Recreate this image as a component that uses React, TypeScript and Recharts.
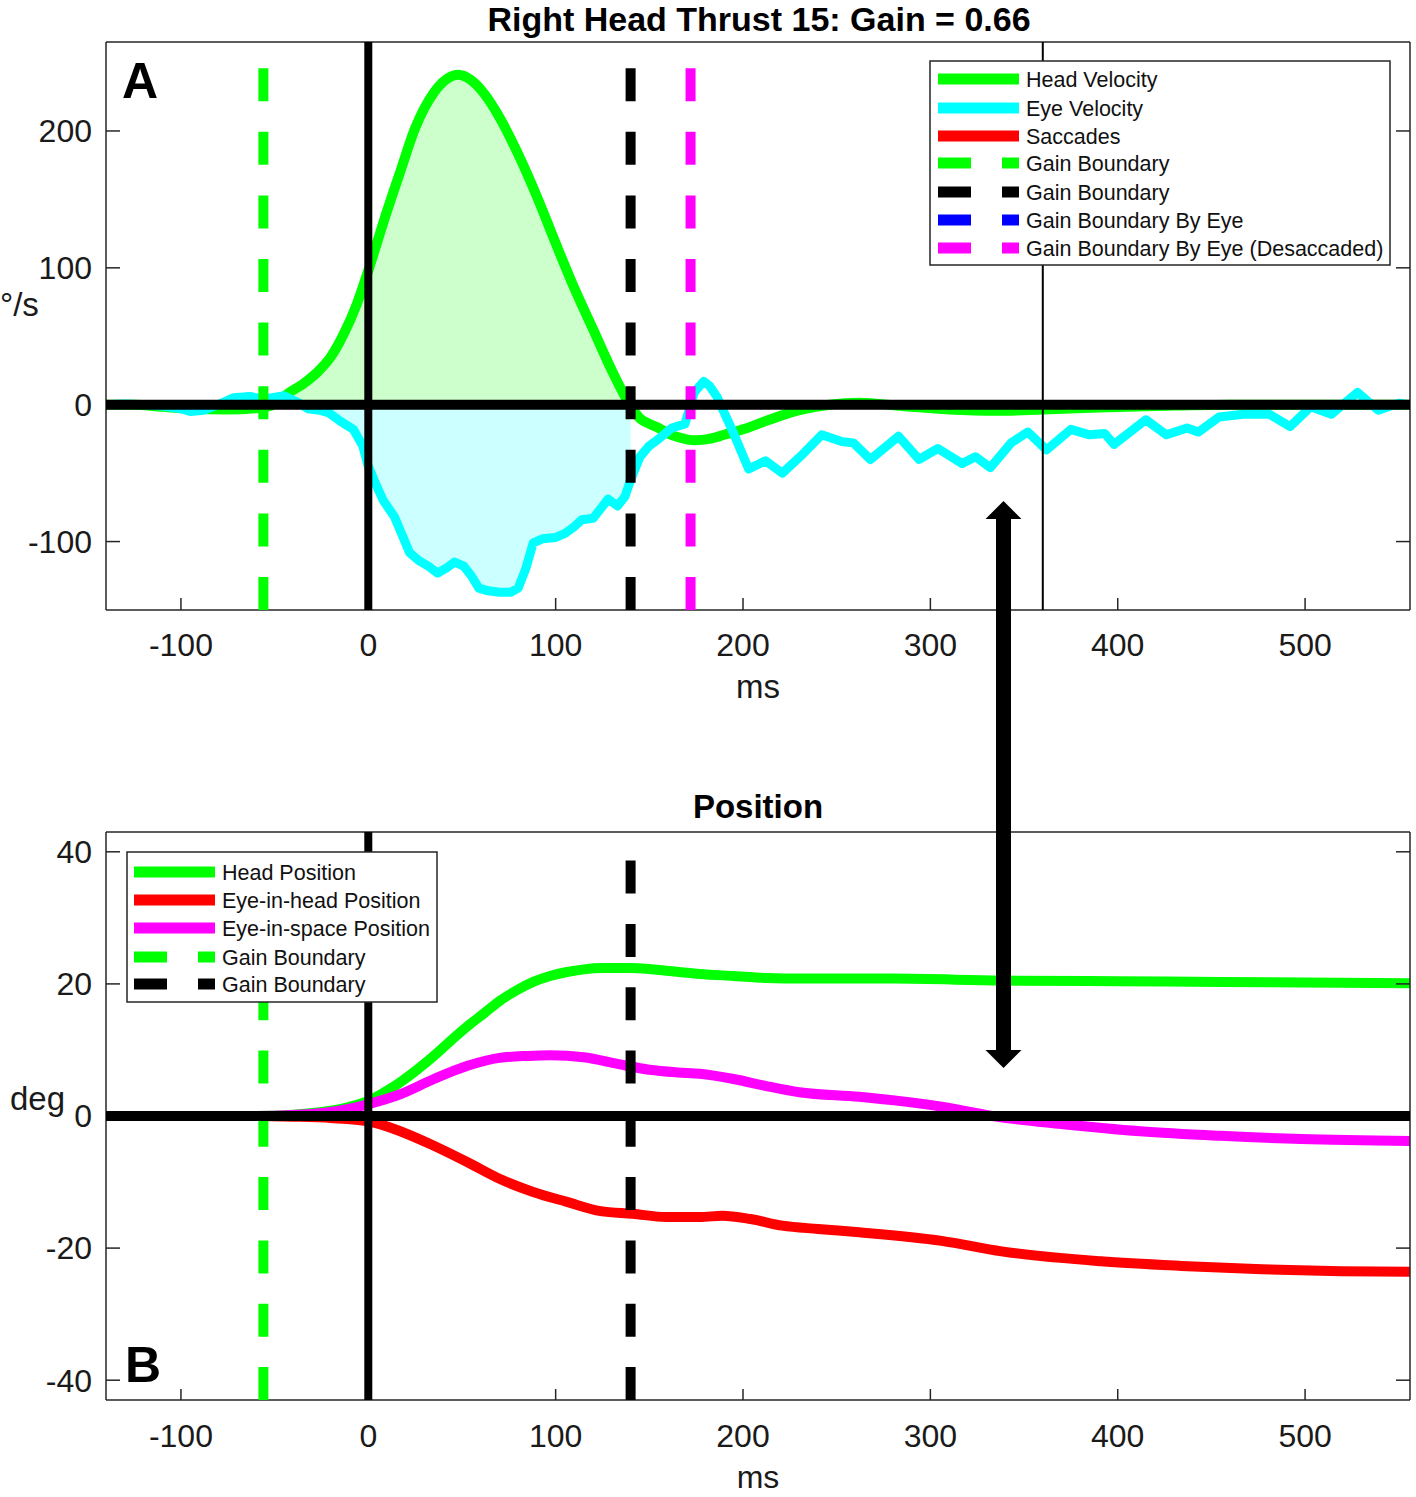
import { ComposedChart, Line, Area, XAxis, YAxis, ReferenceLine, Label } from 'recharts';

const FONT = '"Liberation Sans", Arial, Helvetica, sans-serif';

// time axis (ms) shared by both panels
const timeDomain = [-140, 556];
const timeTicks = [-100, 0, 100, 200, 300, 400, 500];

const velocityDomain = [-150, 265];
const velocityTicks = [-100, 0, 100, 200];
const positionDomain = [-43, 43];
const positionTicks = [-40, -20, 0, 20, 40];

// boundaries (ms)
const gainStart = -56;
const gainEnd = 140;
const desaccadedBoundary = 172;
const thinMarker = 360;

// [ms, deg/s]
const headVelocity = [
  [-140, 0], [-125, 0], [-110, -1.5], [-95, -3], [-75, -3.5], [-56, -2], [-48, 2], [-43, 8],
  [-35, 15], [-27, 24], [-20, 35], [-13, 52], [-6, 74], [0, 98], [8, 133], [17, 170],
  [25, 202], [35, 228], [42, 238], [48, 241], [55, 237], [62, 227], [70, 210], [80, 183],
  [90, 152], [100, 118], [110, 85], [120, 55], [130, 25], [140, -1], [145, -10], [150, -14],
  [155, -17], [160, -21], [166, -24], [174, -26], [182, -25], [190, -22], [200, -18],
  [214, -11], [230, -4], [246, 0], [262, 1.5], [285, -1], [310, -3.5], [335, -4.5],
  [360, -3.5], [390, -2], [420, -1], [460, 0], [556, 0],
];

const eyeVelocity = [
  [-140, 0], [-130, 0.5], [-120, 0], [-110, -1], [-100, -3], [-95, -5], [-88, -4], [-82, -1],
  [-72, 5], [-63, 6], [-56, 4], [-45, 6.5], [-38, 2], [-32, -3], [-26, -4], [-21, -6],
  [-15, -12], [-8, -18], [-3, -30], [0, -45], [4, -58], [8, -70], [14, -82], [18, -95],
  [22, -108], [27, -114], [32, -118], [37, -123], [42, -119], [46, -115], [51, -118],
  [55, -125], [59, -134], [64, -136], [70, -137], [76, -137], [80, -134], [84, -120],
  [88, -101], [93, -98], [100, -97], [105, -94], [110, -89], [114, -84], [120, -83],
  [124, -76], [128, -69], [133, -74], [137, -67], [140, -55], [145, -38], [150, -30],
  [155, -25], [162, -17], [169, -14], [174, 9], [179, 17], [182, 14], [186, 6], [195, -21],
  [203, -47], [212, -41], [221, -50], [232, -36], [242, -22], [253, -27], [259, -28],
  [268, -40], [283, -23], [294, -40], [304, -32], [317, -43], [324, -38], [332, -46],
  [343, -28], [352, -20], [362, -33], [375, -18], [385, -22], [393, -21], [398, -29],
  [415, -11], [426, -22], [437, -17], [443, -20], [454, -9], [467, -7], [481, -7],
  [492, -16], [503, -1.5], [514, -7], [528, 9], [539, -4], [550, 1], [556, 0],
];

// [ms, deg]
const headPosition = [
  [-140, 0], [-60, 0], [-40, 0.2], [-20, 0.8], [-10, 1.4], [0, 2.3], [8, 3.5], [17, 5.1],
  [26, 7], [35, 9.1], [44, 11.4], [53, 13.6], [62, 15.6], [70, 17.4], [79, 19], [88, 20.3],
  [97, 21.2], [106, 21.8], [115, 22.2], [124, 22.4], [141, 22.4], [159, 22], [177, 21.5],
  [195, 21.2], [213, 20.9], [230, 20.8], [280, 20.8], [338, 20.5], [400, 20.4], [455, 20.3],
  [556, 20.1],
];

const eyeInHeadPosition = [
  [-140, 0], [-60, 0], [-40, -0.1], [-20, -0.3], [0, -0.8], [17, -2.3], [35, -4.5], [53, -7],
  [70, -9.5], [88, -11.5], [106, -13], [124, -14.4], [141, -14.8], [159, -15.3], [177, -15.3],
  [189, -15.1], [204, -15.6], [221, -16.6], [240, -17.1], [262, -17.6], [306, -18.9],
  [338, -20.5], [391, -22], [434, -22.7], [477, -23.2], [519, -23.5], [556, -23.6],
];

const eyeInSpacePosition = [
  [-140, 0], [-60, 0], [-40, 0.15], [-20, 0.6], [-10, 1.1], [0, 1.8], [17, 3.3], [35, 5.6],
  [53, 7.6], [70, 8.8], [85, 9.1], [97, 9.2], [115, 8.9], [133, 7.9], [150, 7], [165, 6.6],
  [177, 6.4], [195, 5.6], [213, 4.5], [230, 3.6], [262, 2.9], [306, 1.4], [333, 0],
  [370, -1.2], [412, -2.3], [455, -3], [498, -3.5], [556, -3.8],
];

const velocityLegendNames = [
  'Head Velocity',
  'Eye Velocity',
  'Saccades',
  'Gain Boundary',
  'Gain Boundary',
  'Gain Boundary By Eye',
  'Gain Boundary By Eye (Desaccaded)',
];
const positionLegendNames = [
  'Head Position',
  'Eye-in-head Position',
  'Eye-in-space Position',
  'Gain Boundary',
  'Gain Boundary',
];

const GREEN = '#00ff00';
const CYAN = '#00ffff';
const RED = '#ff0000';
const MAGENTA = '#ff00ff';
const BLUE = '#0000ff';
const BLACK = '#000000';
// reference lines are drawn bottom-up, so the pattern starts with a full dash at the x axis
const DASH_A = '33 30.6';
const DASH_B = '33 30.3';

const toPoints = (pairs: number[][]) => pairs.map(([t, v]) => ({ t, v }));
const inGain = (p: { t: number }) => p.t >= gainStart && p.t <= gainEnd;

const headVelData = toPoints(headVelocity);
const eyeVelData = toPoints(eyeVelocity);
const headFill = headVelData.filter(inGain);
const eyeFill = eyeVelData.filter(inGain);

const axisLine = { stroke: '#262626', strokeWidth: 1.5 };
const tickLine = { stroke: '#262626', strokeWidth: 1.5 };
const tickStyle = { fill: '#1a1a1a', fontSize: 32, fontFamily: FONT };
const blank = () => '';

const velocityLegendStyle = [
  { color: GREEN, dashed: false },
  { color: CYAN, dashed: false },
  { color: RED, dashed: false },
  { color: GREEN, dashed: true },
  { color: BLACK, dashed: true },
  { color: BLUE, dashed: true },
  { color: MAGENTA, dashed: true },
];
const positionLegendStyle = [
  { color: GREEN, dashed: false },
  { color: RED, dashed: false },
  { color: MAGENTA, dashed: false },
  { color: GREEN, dashed: true },
  { color: BLACK, dashed: true },
];

interface LegendProps {
  names: string[];
  styles: { color: string; dashed: boolean }[];
  box: { x: number; y: number; w: number; h: number };
  lineX: number;
  textX: number;
  rows: number[];
}

const LegendBox = ({ names, styles, box, lineX, textX, rows }: LegendProps) => (
  <g>
    <rect x={box.x} y={box.y} width={box.w} height={box.h} fill="#fff" stroke="#262626" strokeWidth={1.5} />
    {names.map((name, i) => (
      <g key={i}>
        <line
          x1={lineX}
          x2={lineX + 81}
          y1={rows[i]}
          y2={rows[i]}
          stroke={styles[i].color}
          strokeWidth={11}
          strokeDasharray={styles[i].dashed ? '33 31' : undefined}
        />
        <text x={textX} y={rows[i] + 8} fontSize={21.5} fontFamily={FONT} fill="#111">
          {name}
        </text>
      </g>
    ))}
  </g>
);

const App = () => {
  return (
    <div style={{ position: 'absolute', left: 0, top: 0, width: 1416, height: 1497, background: '#fff' }}>
      {/* A: velocity */}
      <div style={{ position: 'absolute', left: 0, top: 0 }}>
        <ComposedChart width={1416} height={720} margin={{ top: 41, right: 5, bottom: 10, left: 0 }}>
          <XAxis
            type="number"
            dataKey="t"
            domain={timeDomain}
            ticks={timeTicks}
            interval={0}
            allowDataOverflow
            height={100}
            tickSize={-12}
            tickMargin={35}
            axisLine={axisLine}
            tickLine={tickLine}
            tick={tickStyle}
          >
            <Label value="ms" position="insideBottom" offset={12} fontSize={33} fontFamily={FONT} fill="#1a1a1a" />
          </XAxis>
          <XAxis
            xAxisId="top"
            orientation="top"
            type="number"
            domain={timeDomain}
            ticks={timeTicks}
            interval={0}
            allowDataOverflow
            height={1}
            tickSize={-12}
            tickFormatter={blank}
            axisLine={axisLine}
            tickLine={tickLine}
          />
          <YAxis
            type="number"
            domain={velocityDomain}
            ticks={velocityTicks}
            interval={0}
            allowDataOverflow
            width={106}
            tickSize={-14}
            tickMargin={28}
            axisLine={axisLine}
            tickLine={tickLine}
            tick={tickStyle}
          />
          <YAxis
            yAxisId="right"
            orientation="right"
            type="number"
            domain={velocityDomain}
            ticks={velocityTicks}
            interval={0}
            allowDataOverflow
            width={1}
            tickSize={-14}
            tickFormatter={blank}
            axisLine={axisLine}
            tickLine={tickLine}
          />
          <Area data={headFill} dataKey="v" type="monotone" baseValue={0} fill="#ccffcc" fillOpacity={1} stroke="none" isAnimationActive={false} />
          <Area data={eyeFill} dataKey="v" type="linear" baseValue={0} fill="#ccffff" fillOpacity={1} stroke="none" isAnimationActive={false} />
          <Line data={headVelData} dataKey="v" type="monotone" stroke={GREEN} strokeWidth={10} strokeLinejoin="round" dot={false} activeDot={false} isAnimationActive={false} />
          <Line data={eyeVelData} dataKey="v" type="linear" stroke={CYAN} strokeWidth={9} strokeLinejoin="round" dot={false} activeDot={false} isAnimationActive={false} />
          <ReferenceLine x={gainStart} stroke={GREEN} strokeWidth={10} strokeDasharray={DASH_A} zIndex={700} />
          <ReferenceLine x={gainEnd} stroke={BLACK} strokeWidth={10} strokeDasharray={DASH_A} zIndex={700} />
          <ReferenceLine x={desaccadedBoundary} stroke={MAGENTA} strokeWidth={10} strokeDasharray={DASH_A} zIndex={700} />
          <ReferenceLine x={thinMarker} stroke={BLACK} strokeWidth={2} zIndex={700} />
          <ReferenceLine x={0} stroke={BLACK} strokeWidth={8} zIndex={700} />
          <ReferenceLine y={0} stroke={BLACK} strokeWidth={10} zIndex={700} />
        </ComposedChart>
      </div>

      {/* B: position */}
      <div style={{ position: 'absolute', left: 0, top: 720 }}>
        <ComposedChart width={1416} height={777} margin={{ top: 111, right: 5, bottom: 0, left: 0 }}>
          <XAxis
            type="number"
            dataKey="t"
            domain={timeDomain}
            ticks={timeTicks}
            interval={0}
            allowDataOverflow
            height={97}
            tickSize={-11}
            tickMargin={35}
            axisLine={axisLine}
            tickLine={tickLine}
            tick={tickStyle}
          >
            <Label value="ms" position="insideBottom" offset={9} fontSize={32} fontFamily={FONT} fill="#1a1a1a" />
          </XAxis>
          <XAxis
            xAxisId="top"
            orientation="top"
            type="number"
            domain={timeDomain}
            ticks={timeTicks}
            interval={0}
            allowDataOverflow
            height={1}
            tickSize={-11}
            tickFormatter={blank}
            axisLine={axisLine}
            tickLine={tickLine}
          />
          <YAxis
            type="number"
            domain={positionDomain}
            ticks={positionTicks}
            interval={0}
            allowDataOverflow
            width={106}
            tickSize={-14}
            tickMargin={28}
            axisLine={axisLine}
            tickLine={tickLine}
            tick={tickStyle}
          />
          <YAxis
            yAxisId="right"
            orientation="right"
            type="number"
            domain={positionDomain}
            ticks={positionTicks}
            interval={0}
            allowDataOverflow
            width={1}
            tickSize={-14}
            tickFormatter={blank}
            axisLine={axisLine}
            tickLine={tickLine}
          />
          <Line data={toPoints(headPosition)} dataKey="v" type="monotone" stroke={GREEN} strokeWidth={10} dot={false} activeDot={false} isAnimationActive={false} />
          <Line data={toPoints(eyeInHeadPosition)} dataKey="v" type="monotone" stroke={RED} strokeWidth={10} dot={false} activeDot={false} isAnimationActive={false} />
          <Line data={toPoints(eyeInSpacePosition)} dataKey="v" type="monotone" stroke={MAGENTA} strokeWidth={10} dot={false} activeDot={false} isAnimationActive={false} />
          <ReferenceLine x={gainStart} stroke={GREEN} strokeWidth={10} strokeDasharray={DASH_B} zIndex={700} />
          <ReferenceLine x={gainEnd} stroke={BLACK} strokeWidth={10} strokeDasharray={DASH_B} zIndex={700} />
          <ReferenceLine x={0} stroke={BLACK} strokeWidth={8} zIndex={700} />
          <ReferenceLine y={0} stroke={BLACK} strokeWidth={10} zIndex={700} />
        </ComposedChart>
      </div>

      {/* titles, labels, legends and the double arrow */}
      <svg width={1416} height={1497} style={{ position: 'absolute', left: 0, top: 0, pointerEvents: 'none' }}>
        <text x={759} y={31} textAnchor="middle" fontSize={34} fontWeight="bold" fontFamily={FONT} fill="#000">
          Right Head Thrust 15: Gain = 0.66
        </text>
        <text x={758} y={818} textAnchor="middle" fontSize={33} fontWeight="bold" fontFamily={FONT} fill="#000">
          Position
        </text>
        <text x={122} y={98} fontSize={50} fontWeight="bold" fontFamily={FONT} fill="#000">A</text>
        <text x={125} y={1382} fontSize={50} fontWeight="bold" fontFamily={FONT} fill="#000">B</text>
        <text x={0} y={316} fontSize={33} fontFamily={FONT} fill="#1a1a1a">°/s</text>
        <text x={10} y={1110} fontSize={33} fontFamily={FONT} fill="#1a1a1a">deg</text>

        <LegendBox
          names={velocityLegendNames}
          styles={velocityLegendStyle}
          box={{ x: 930, y: 61, w: 460, h: 204 }}
          lineX={938}
          textX={1026}
          rows={[79, 108, 136, 163, 192, 220, 248]}
        />
        <LegendBox
          names={positionLegendNames}
          styles={positionLegendStyle}
          box={{ x: 127, y: 852, w: 310, h: 150 }}
          lineX={134}
          textX={222}
          rows={[872, 900, 928, 957, 984]}
        />

        <polygon
          points="1003.5,501 1021.5,519 1011,519 1011,1050 1021.5,1050 1003.5,1068 985.5,1050 996,1050 996,519 985.5,519"
          fill="#000"
        />
      </svg>
    </div>
  );
};

export default App;
